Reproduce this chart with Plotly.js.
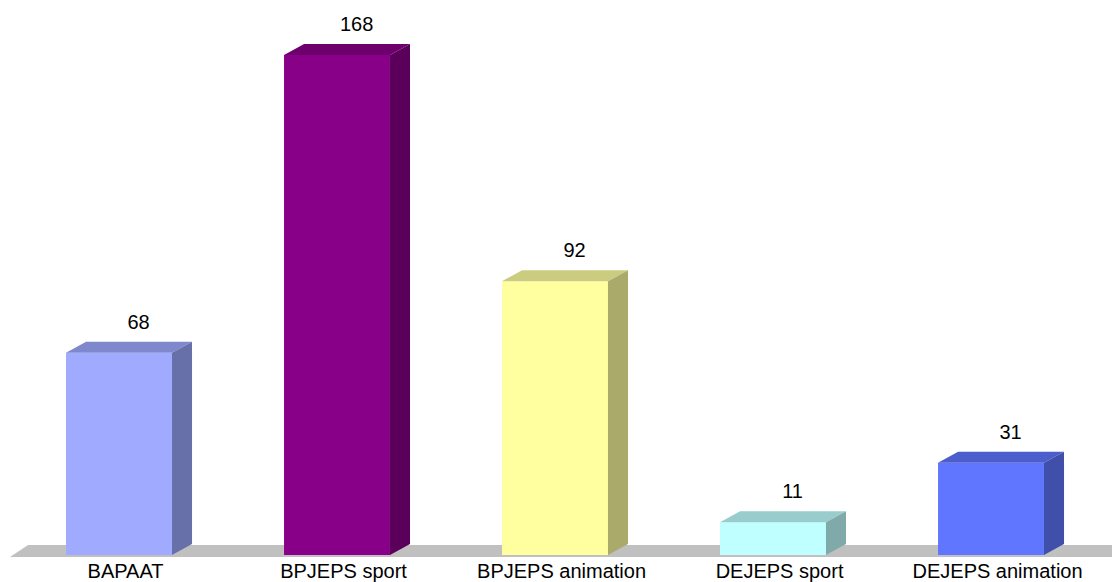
<!DOCTYPE html>
<html>
<head>
<meta charset="utf-8">
<script src="https://cdn.plot.ly/plotly-3.0.1.min.js"></script>
<style>html,body{margin:0;padding:0;background:#fff;}#chart{width:1112px;height:582px;}</style>
</head>
<body>
<div id="chart"></div>
<script>
const categories = ['BAPAAT', 'BPJEPS sport', 'BPJEPS animation', 'DEJEPS sport', 'DEJEPS animation'];
const values = [68, 168, 92, 11, 31];
const frontColors = ['#A0AAFF', '#880088', '#FFFF9F', '#BFFFFF', '#6076FF'];
const topColors = ['#7F88CC', '#6D006D', '#CCCC80', '#99CCCC', '#4C5ECC'];
const sideColors = ['#6870AA', '#5A005A', '#AAAA6A', '#80AAAA', '#4050AA'];

const barWidth = 0.486;
const depthX = 0.092;
const depthY = 3.7;
const positions = categories.map((_, i) => i);

const traces = [];
positions.forEach((x, i) => {
  const v = values[i];
  const l = x - barWidth / 2, r = x + barWidth / 2;
  traces.push({
    type: 'bar', x: [x], y: [v], width: barWidth,
    marker: {color: frontColors[i], line: {width: 0}},
    hoverinfo: 'skip', showlegend: false
  });
  traces.push({
    type: 'scatter', mode: 'lines', fill: 'toself',
    x: [l, r, r + depthX, l + depthX, l],
    y: [v, v, v + depthY, v + depthY, v],
    fillcolor: topColors[i], line: {width: 0, color: topColors[i]},
    hoverinfo: 'skip', showlegend: false
  });
  traces.push({
    type: 'scatter', mode: 'lines', fill: 'toself',
    x: [r, r + depthX, r + depthX, r, r],
    y: [0, depthY, v + depthY, v, 0],
    fillcolor: sideColors[i], line: {width: 0, color: sideColors[i]},
    hoverinfo: 'skip', showlegend: false
  });
});

traces.push({
  type: 'scatter', mode: 'text',
  x: positions.map(x => x + 0.09),
  y: values.map(v => v + depthY + 6.0),
  text: values.map(String),
  textposition: 'middle center',
  textfont: {family: 'Liberation Sans, Arial, sans-serif', size: 20, color: '#000'},
  hoverinfo: 'skip', showlegend: false, cliponaxis: false
});

const layout = {
  width: 1112, height: 582,
  margin: {l: 0, r: 0, t: 0, b: 25},
  paper_bgcolor: '#fff', plot_bgcolor: '#fff',
  barmode: 'overlay',
  xaxis: {
    range: [-119 / 218, 993 / 218],
    tickvals: positions.map(x => x + 0.03),
    ticktext: categories,
    ticks: '', showgrid: false, zeroline: false, showline: false,
    tickfont: {family: 'Liberation Sans, Arial, sans-serif', size: 20, color: '#000'},
    fixedrange: true
  },
  yaxis: {range: [-0.672, 186.5], visible: false, fixedrange: true},
  shapes: [{
    type: 'path', xref: 'x', yref: 'y', layer: 'below',
    path: 'M -0.5,-0.672 L 4.7,-0.672 L 4.7,3.4 L -0.417,3.4 Z',
    fillcolor: '#C0C0C0', line: {width: 0}
  }],
  showlegend: false
};

Plotly.newPlot('chart', traces, layout, {displayModeBar: false, staticPlot: true});
</script>
</body>
</html>
